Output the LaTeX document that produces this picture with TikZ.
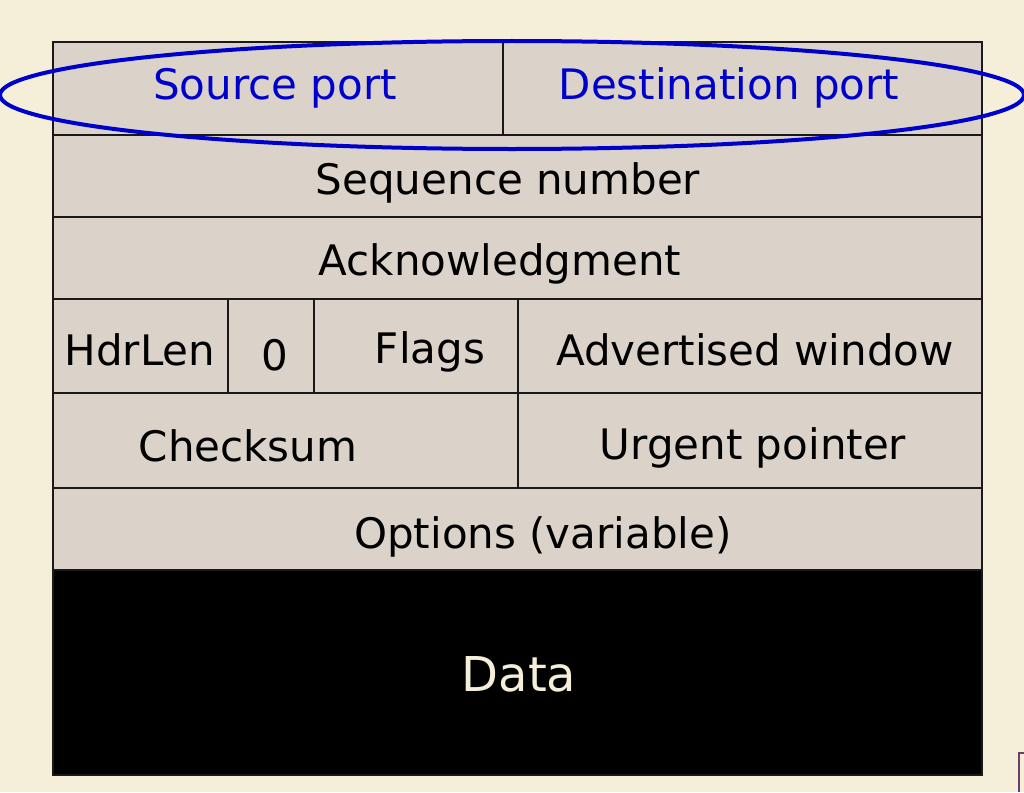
\documentclass[tikz,border=0pt]{standalone}
\usepackage{fontspec}
\setmainfont{DejaVu Sans}
\definecolor{pagebg}{HTML}{F5EFDA}
\definecolor{cellfill}{HTML}{DBD3C9}
\definecolor{portblue}{HTML}{0000CC}
\definecolor{iconpurple}{HTML}{6A3F6E}
\tikzset{
  cell/.style={draw=black!90, line width=1.9pt, fill=cellfill, rectangle,
    inner sep=0pt, minimum width=#1},
  rowA/.style={minimum height=93pt},
  rowB/.style={minimum height=82pt},
  rowC/.style={minimum height=94pt},
  rowD/.style={minimum height=95pt},
  txt/.style={font=\fontsize{42}{46}\selectfont, text=black, inner sep=0pt},
  bluetxt/.style={txt, text=portblue},
  datatxt/.style={txt, font=\fontsize{48}{52}\selectfont, text=pagebg},
  ring/.style={draw=portblue, line width=4pt},
}
\begin{document}
\begin{tikzpicture}[x=1pt, y=-1pt]
  \useasboundingbox (0,0) rectangle (1024,792);
  \clip (0,0) rectangle (1024,792);
  \fill[pagebg] (0,0) rectangle (1024,792);

  % header word 0: ports
  \node[cell=450pt, rowA] (src) at (278,88.5) {};
  \node[cell=479pt, rowA] (dst) at (742.5,88.5) {};
  % sequence and acknowledgment words
  \node[cell=929pt, rowB] (seq) at (517.5,176) {};
  \node[cell=929pt, rowB] (ack) at (517.5,258) {};
  % header length, reserved, flags, window
  \node[cell=175pt, rowC] (hdr) at (140.5,346) {};
  \node[cell=86pt, rowC] (zero) at (271,346) {};
  \node[cell=204pt, rowC] (flags) at (416,346) {};
  \node[cell=464pt, rowC] (adv) at (750,346) {};
  % checksum and urgent pointer
  \node[cell=465pt, rowD] (chk) at (285.5,440.5) {};
  \node[cell=464pt, rowD] (urg) at (750,440.5) {};
  % options and payload
  \node[cell=929pt, rowB] (opt) at (517.5,529) {};
  \node[cell=929pt, minimum height=205pt, fill=black] (data) at (517.5,672.5) {};

  % field labels
  \node[bluetxt] (tsrc) at (275,88) {Source port};
  \node[bluetxt] (tdst) at (729,88) {Destination port};
  \node[txt] (tseq) at (508,183) {Sequence number};
  \node[txt] (tack) at (500,264) {Acknowledgment};
  \node[txt] (thdr) at (140,350) {HdrLen};
  \node[txt] (tzero) at (275,355) {0};
  \node[txt] (tflags) at (430,352) {Flags};
  \node[txt] (tadv) at (755,350) {Advertised window};
  \node[txt] (tchk) at (248,446) {Checksum};
  \node[txt] (turg) at (753,448) {Urgent pointer};
  \node[txt] (topt) at (543,537) {Options (variable)};
  \node[datatxt] (tdata) at (519,674) {Data};

  % highlight ring round the port fields
  \draw[ring] (512,95) ellipse [x radius=512, y radius=54];

  % corner icon fragment
  \draw[iconpurple, line width=1.2pt] (1024,753) -- (1019,753) -- (1019,792);
\end{tikzpicture}
\end{document}
